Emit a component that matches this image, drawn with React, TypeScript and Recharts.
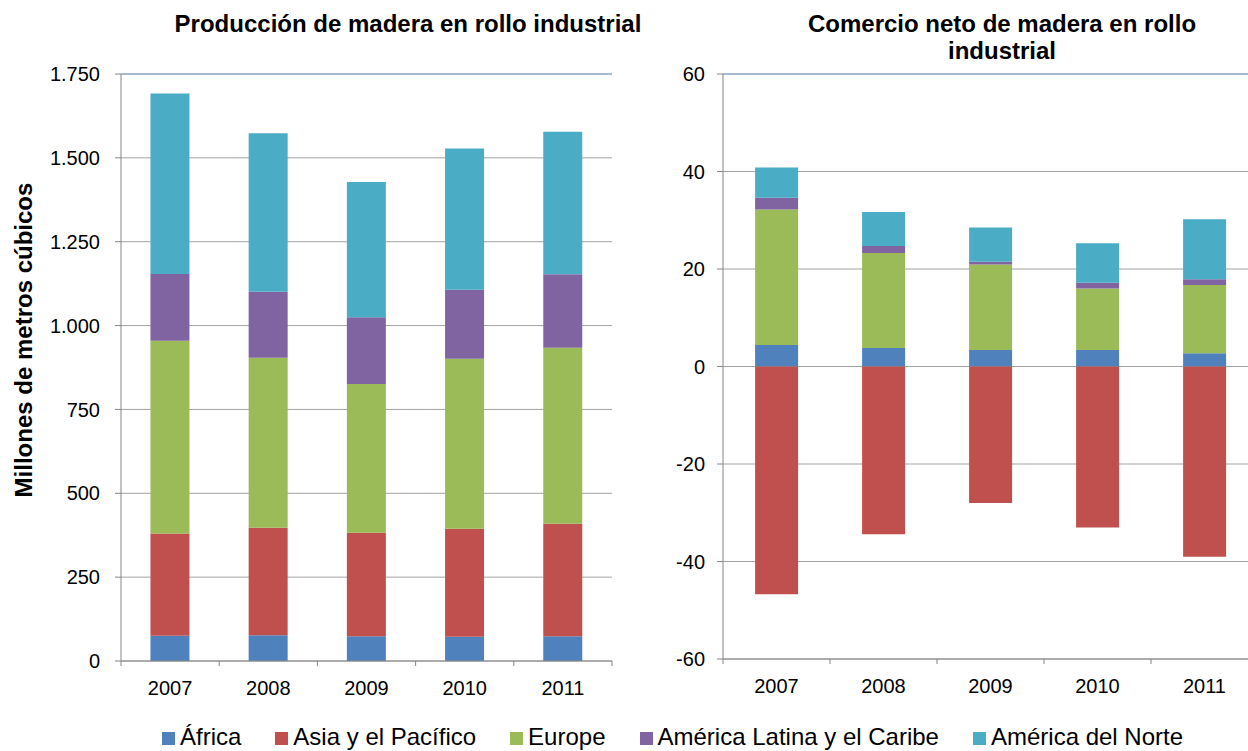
import { BarChart, Bar, XAxis, YAxis, CartesianGrid, ReferenceLine } from "recharts";

const YEARS = ["2007", "2008", "2009", "2010", "2011"];

// Producción (millones de m3)
const PROD_AFRICA = [75, 77, 74, 72, 74];
const PROD_ASIA = [305, 320, 308, 322, 335];
const PROD_EUROPE = [575, 507, 444, 507, 525];
const PROD_LATAM = [199, 197, 199, 206, 219];
const PROD_NORTE = [538, 472, 403, 421, 425];

// Comercio neto (millones de m3)
const TRADE_AFRICA = [4.4, 3.8, 3.4, 3.4, 2.7];
const TRADE_ASIA = [-46.7, -34.4, -28.0, -33.0, -39.0];
const TRADE_EUROPE = [27.8, 19.5, 17.5, 12.6, 14.0];
const TRADE_LATAM = [2.4, 1.4, 0.6, 1.2, 1.2];
const TRADE_NORTE = [6.2, 7.0, 7.0, 8.1, 12.3];

const PROD_TICKS = [0, 250, 500, 750, 1000, 1250, 1500, 1750];
const TRADE_TICKS = [-60, -40, -20, 0, 20, 40, 60];

const SERIES = [
  { key: "africa", label: "África", color: "#4F81BD" },
  { key: "asia", label: "Asia y el Pacífico", color: "#C0504D" },
  { key: "europe", label: "Europe", color: "#9BBB59" },
  { key: "latam", label: "América Latina y el Caribe", color: "#8064A2" },
  { key: "norte", label: "América del Norte", color: "#4BACC6" },
];

const prodData = YEARS.map((year, i) => ({
  year,
  africa: PROD_AFRICA[i],
  asia: PROD_ASIA[i],
  europe: PROD_EUROPE[i],
  latam: PROD_LATAM[i],
  norte: PROD_NORTE[i],
}));

const tradeData = YEARS.map((year, i) => ({
  year,
  africa: TRADE_AFRICA[i],
  asia: TRADE_ASIA[i],
  europe: TRADE_EUROPE[i],
  latam: TRADE_LATAM[i],
  norte: TRADE_NORTE[i],
}));

const FONT = "'Liberation Sans', Arial, Helvetica, sans-serif";
const AXIS = "#868686";
const GRID = "#a3a3a3";
const BORDER = "#7fa3d0";

function thousands(v: number): string {
  return String(v).replace(/\B(?=(\d{3})+(?!\d))/g, ".");
}

// Excel-style category ticks: marks on band edges, label in the middle
function YearTick(props: any) {
  const { x, y, payload, index } = props;
  const half = payload?.offset ?? 0;
  const top = y - 8;
  return (
    <g>
      <line x1={x - half} y1={top} x2={x - half} y2={top + 5} stroke={AXIS} />
      {index === YEARS.length - 1 && (
        <line x1={x + half} y1={top} x2={x + half} y2={top + 5} stroke={AXIS} />
      )}
      <text x={x} y={y} dy={26} textAnchor="middle" fontSize={20} fill="#000" fontFamily={FONT}>
        {payload.value}
      </text>
    </g>
  );
}

function ProductionChart() {
  return (
    <BarChart
      width={620}
      height={720}
      data={prodData}
      margin={{ top: 74, right: 8, left: 0, bottom: 29 }}
      barCategoryGap="30%"
      style={{ fontFamily: FONT }}
    >
      <CartesianGrid vertical={false} stroke={GRID} />
      <XAxis
        dataKey="year"
        height={30}
        stroke={AXIS}
        tickLine={false}
        tickSize={6}
        tickMargin={2}
        tick={<YearTick />}
        interval={0}
      />
      <YAxis
        width={121}
        domain={[0, 1750]}
        ticks={PROD_TICKS}
        tickFormatter={(v: number) => thousands(v)}
        stroke={AXIS}
        tickSize={6}
        tickMargin={15}
        tick={{ fill: "#000", fontSize: 20 }}
        allowDataOverflow
      />
      <YAxis
        yAxisId="border"
        orientation="right"
        width={0}
        domain={[0, 1750]}
        tick={false}
        tickLine={false}
        stroke={BORDER}
      />
      <ReferenceLine y={1750} stroke={BORDER} />
      {SERIES.map((s) => (
        <Bar
          key={s.key}
          dataKey={s.key}
          name={s.label}
          stackId="a"
          fill={s.color}
          isAnimationActive={false}
        />
      ))}
    </BarChart>
  );
}

function TradeChart() {
  return (
    <BarChart
      width={660}
      height={720}
      data={tradeData}
      margin={{ top: 74, right: 22, left: 0, bottom: 31 }}
      barCategoryGap="30%"
      stackOffset="sign"
      style={{ fontFamily: FONT }}
    >
      <CartesianGrid vertical={false} stroke={GRID} />
      <XAxis
        dataKey="year"
        height={30}
        stroke={AXIS}
        tickLine={false}
        tickSize={6}
        tickMargin={2}
        tick={<YearTick />}
        interval={0}
      />
      <YAxis
        width={103}
        domain={[-60, 60]}
        ticks={TRADE_TICKS}
        stroke={AXIS}
        tickSize={6}
        tickMargin={12}
        tick={{ fill: "#000", fontSize: 20 }}
        allowDataOverflow
      />
      <ReferenceLine y={60} stroke={BORDER} />
      {SERIES.map((s) => (
        <Bar
          key={s.key}
          dataKey={s.key}
          name={s.label}
          stackId="a"
          fill={s.color}
          isAnimationActive={false}
        />
      ))}
    </BarChart>
  );
}

export default function App() {
  const titleStyle: React.CSSProperties = {
    position: "absolute",
    fontFamily: FONT,
    fontWeight: "bold",
    fontSize: 24,
    lineHeight: "27px",
    textAlign: "center",
    color: "#000",
    whiteSpace: "nowrap",
  };
  return (
    <div
      style={{
        position: "absolute",
        left: 0,
        top: 0,
        width: 1248,
        height: 751,
        overflow: "hidden",
        background: "#fff",
        fontFamily: FONT,
      }}
    >
      <div style={{ position: "absolute", left: 0, top: 0 }}>
        <ProductionChart />
      </div>
      <div style={{ position: "absolute", left: 620, top: 0 }}>
        <TradeChart />
      </div>

      <div style={{ ...titleStyle, left: 108, width: 600, top: 10 }}>
        Producción de madera en rollo industrial
      </div>
      <div style={{ ...titleStyle, left: 702, width: 600, top: 10 }}>
        Comercio neto de madera en rollo
        <br />
        industrial
      </div>

      <div
        style={{
          position: "absolute",
          left: 24,
          top: 340,
          transform: "translate(-50%, -50%) rotate(-90deg)",
          fontFamily: FONT,
          fontWeight: "bold",
          fontSize: 24,
          lineHeight: "24px",
          whiteSpace: "nowrap",
          color: "#000",
        }}
      >
        Millones de metros cúbicos
      </div>

      <div
        style={{
          position: "absolute",
          left: 162,
          top: 725,
          fontFamily: FONT,
          fontSize: 24,
          lineHeight: "24px",
          whiteSpace: "nowrap",
          color: "#000",
        }}
      >
        {SERIES.map((s, i) => (
          <span key={s.key} style={{ marginLeft: i === 0 ? 0 : 34 }}>
            <span
              style={{
                display: "inline-block",
                width: 13,
                height: 13,
                background: s.color,
                marginRight: 5,
              }}
            />
            {s.label}
          </span>
        ))}
      </div>
    </div>
  );
}
